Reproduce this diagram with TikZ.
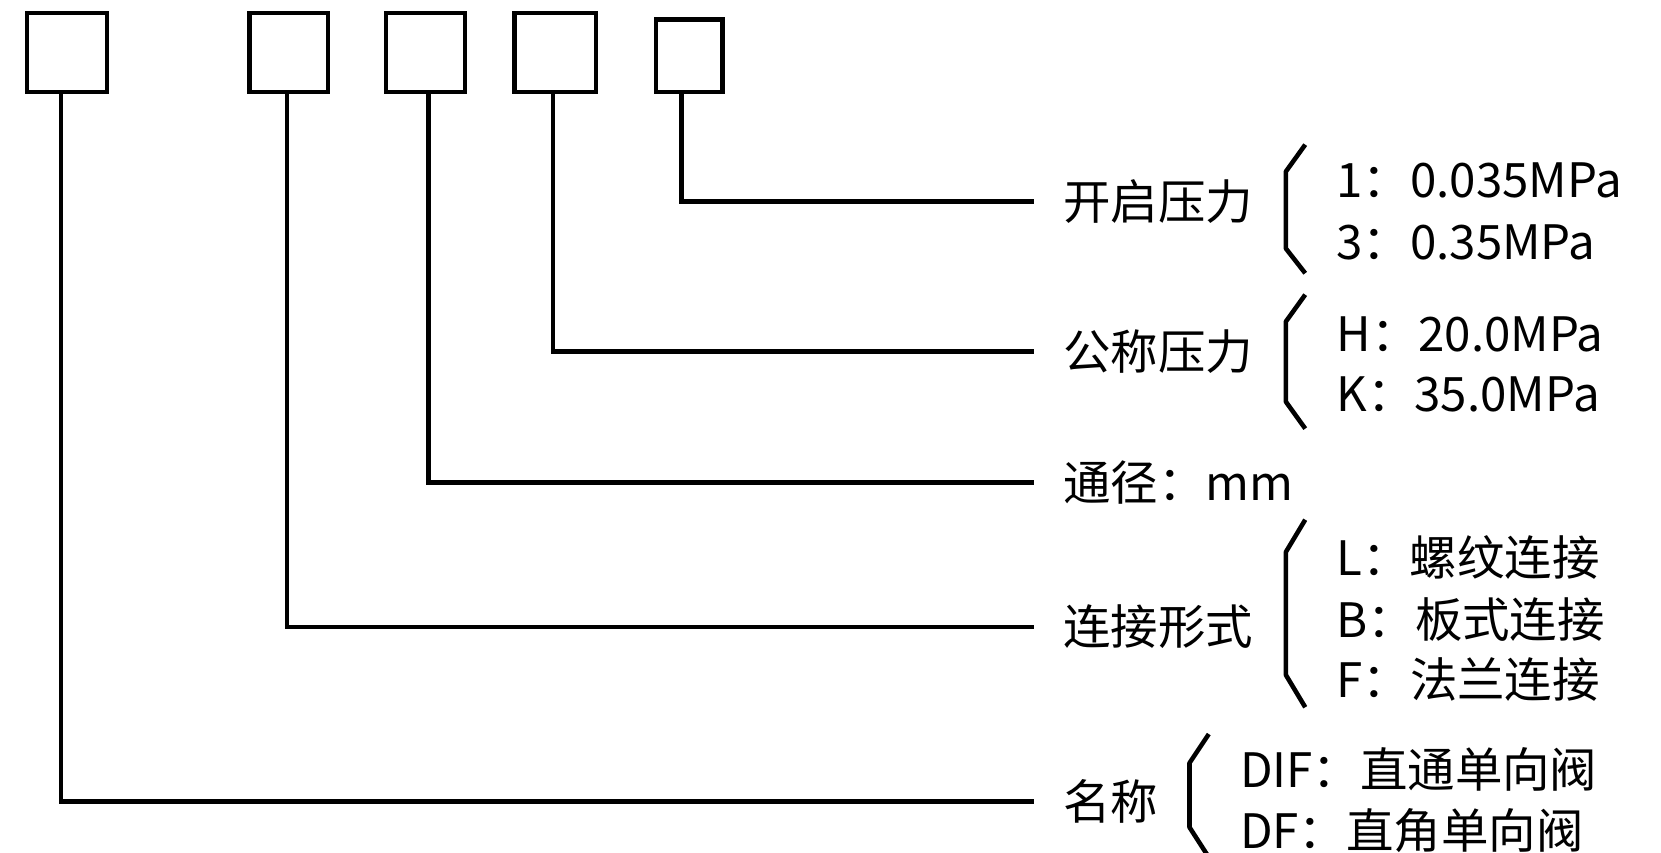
\documentclass[tikz,border=0pt]{standalone}
\usepackage{fontspec}
\setmainfont{Noto Sans CJK SC}
\begin{document}
\begin{tikzpicture}[x=0.10716mm, y=-0.10716mm, line width=1.3pt]
  \tikzset{beschr/.style={anchor=west, inner sep=0pt, font=\fontsize{13.5}{16}\selectfont},
    klammer/.style={line width=1.3pt, line join=round}};
  \useasboundingbox (0,0) rectangle (1550,796);

  \draw (25,12) rectangle (100,86);
  \draw (233,12) rectangle (306,86);
  \draw (360,12) rectangle (434,86);
  \draw (480,12) rectangle (556,86);
  \draw (612,18) rectangle (674,86);

  \coordinate (q1) at (57,86);
  \coordinate (q2) at (268,86);
  \coordinate (q3) at (400,86);
  \coordinate (q4) at (516,86);
  \coordinate (q5) at (636,86);

  \node[beschr] (kaiqi) at (990,188) {开启压力};
  \node[beschr] (gongcheng) at (990,328) {公称压力};
  \node[beschr] (tongjing) at (990,450) {通径：mm};
  \node[beschr] (lianjie) at (990,585) {连接形式};
  \node[beschr] (mingcheng) at (990,748) {名称};

  \draw (q5) |- ([xshift=-2.7mm]kaiqi.west);
  \draw (q4) |- ([xshift=-2.7mm]gongcheng.west);
  \draw (q3) |- ([xshift=-2.7mm]tongjing.west);
  \draw (q2) |- ([xshift=-2.7mm]lianjie.west);
  \draw (q1) |- ([xshift=-2.7mm]mingcheng.west);

  \draw[klammer] (1218,135) -- (1200,160) -- (1200,232) -- (1218,255);
  \draw[klammer] (1218,275) -- (1200,300) -- (1200,375) -- (1218,400);
  \draw[klammer] (1218,485) -- (1200,515) -- (1200,630) -- (1218,660);
  \draw[klammer] (1128,685) -- (1110,712) -- (1110,772) -- (1128,800);

  \node[beschr] (k1) at (1245,168) {1：0.035MPa};
  \node[beschr] (k3) at (1245,226) {3：0.35MPa};
  \node[beschr] (gh) at (1245,312) {H：20.0MPa};
  \node[beschr] (gk) at (1245,368) {K：35.0MPa};
  \node[beschr] (ll) at (1245,520) {L：螺纹连接};
  \node[beschr] (lb) at (1245,578) {B：板式连接};
  \node[beschr] (lf) at (1245,634) {F：法兰连接};
  \node[beschr] (dif) at (1155,718) {DIF：直通单向阀};
  \node[beschr] (df) at (1155,775) {DF：直角单向阀};
\end{tikzpicture}
\end{document}
